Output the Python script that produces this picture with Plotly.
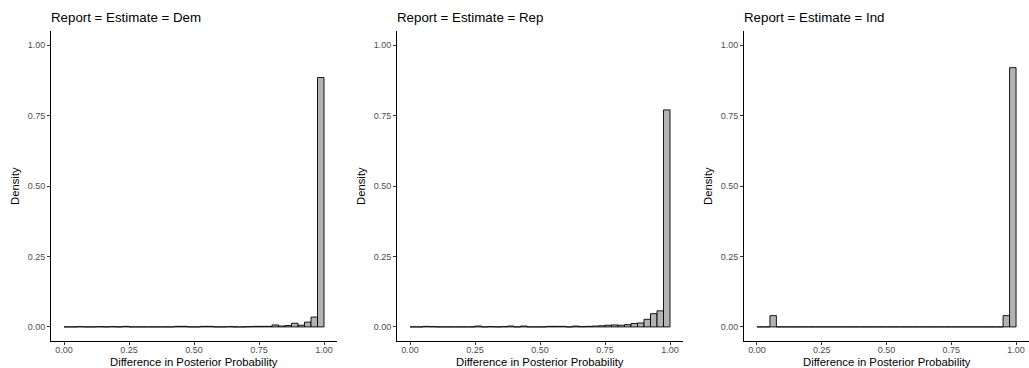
import plotly.graph_objects as go

# ---- data: share of draws per bin (40 bins of width 0.025 on [0, 1]) ----
bin_width = 0.025
bin_starts = [i * bin_width for i in range(40)]

panel_titles = ["Report = Estimate = Dem", "Report = Estimate = Rep", "Report = Estimate = Ind"]

dem_values = [0, 0, 0.001, 0, 0, 0.001, 0, 0.001, 0, 0.002,
              0, 0, 0, 0, 0, 0, 0, 0.002, 0.002, 0,
              0, 0.002, 0.002, 0, 0, 0.001, 0, 0, 0.001, 0.002,
              0.002, 0.002, 0.007, 0.003, 0.005, 0.013, 0.006, 0.017, 0.035, 0.885]

rep_values = [0, 0, 0.002, 0.001, 0, 0, 0, 0, 0, 0,
              0.003, 0, 0.001, 0, 0.001, 0.003, 0, 0.003, 0, 0,
              0, 0.002, 0.002, 0.002, 0, 0.003, 0.001, 0.002, 0.003, 0.004,
              0.006, 0.007, 0.006, 0.008, 0.012, 0.014, 0.027, 0.047, 0.057, 0.770]

ind_values = [0, 0, 0.04, 0, 0, 0, 0, 0, 0, 0,
              0, 0, 0, 0, 0, 0, 0, 0, 0, 0,
              0, 0, 0, 0, 0, 0, 0, 0, 0, 0,
              0, 0, 0, 0, 0, 0, 0, 0, 0.04, 0.92]

tick_vals = [0, 0.25, 0.5, 0.75, 1.0]
tick_text = ["0.00", "0.25", "0.50", "0.75", "1.00"]

x_title = "Difference in Posterior Probability"
y_title = "Density"

# ---- layout ----
W, H = 1029, 368
x_domains = [(51 / W, 337 / W), (397 / W, 683 / W), (744 / W, 1.0)]
y_domain = (1 - 341 / H, 1 - 31 / H)

FONT = "Liberation Sans, Arial, Helvetica, sans-serif"

fig = go.Figure()
series = [dem_values, rep_values, ind_values]
centers = [s + bin_width / 2 for s in bin_starts]

annotations = []
for i, vals in enumerate(series):
    xa = "x" if i == 0 else f"x{i+1}"
    ya = "y" if i == 0 else f"y{i+1}"
    fig.add_trace(go.Bar(
        x=centers, y=vals, width=[bin_width] * len(centers),
        xaxis=xa, yaxis=ya,
        marker=dict(color="#b3b3b3", line=dict(color="black", width=0.9)),
        showlegend=False, hoverinfo="x+y",
    ))
    axis_common = dict(
        showline=True, linecolor="black", linewidth=1,
        ticks="outside", ticklen=3, tickwidth=1, tickcolor="#333333",
        tickfont=dict(family=FONT, size=9, color="#4d4d4d"),
        showgrid=False, zeroline=False, fixedrange=True,
        tickvals=tick_vals, ticktext=tick_text,
        range=[-0.05, 1.05],
    )
    xkey = "xaxis" if i == 0 else f"xaxis{i+1}"
    ykey = "yaxis" if i == 0 else f"yaxis{i+1}"
    fig.update_layout(**{
        xkey: dict(domain=list(x_domains[i]), anchor=ya, ticklabelstandoff=-3, **axis_common),
        ykey: dict(domain=list(y_domain), anchor=xa, **axis_common),
    })
    x0, x1 = x_domains[i]
    annotations.append(dict(
        text=panel_titles[i], x=(x0 * W - 2) / W, y=1 - 17 / H, xref="paper", yref="paper",
        xanchor="left", yanchor="middle", showarrow=False,
        font=dict(family=FONT, size=13.3, color="black"),
    ))
    annotations.append(dict(
        text=x_title, x=(x0 + x1) / 2, y=1 - 361.5 / H, xref="paper", yref="paper",
        xanchor="center", yanchor="middle", showarrow=False,
        font=dict(family=FONT, size=11.3, color="black"),
    ))
    annotations.append(dict(
        text=y_title, x=(x0 * W - 36) / W, y=(y_domain[0] + y_domain[1]) / 2,
        xref="paper", yref="paper", xanchor="center", yanchor="middle",
        textangle=-90, showarrow=False,
        font=dict(family=FONT, size=11.3, color="black"),
    ))

fig.update_layout(
    width=W, height=H,
    margin=dict(l=0, r=0, t=0, b=0),
    paper_bgcolor="white", plot_bgcolor="white",
    annotations=annotations,
    barmode="overlay",
)

fig.write_html("out.html")
